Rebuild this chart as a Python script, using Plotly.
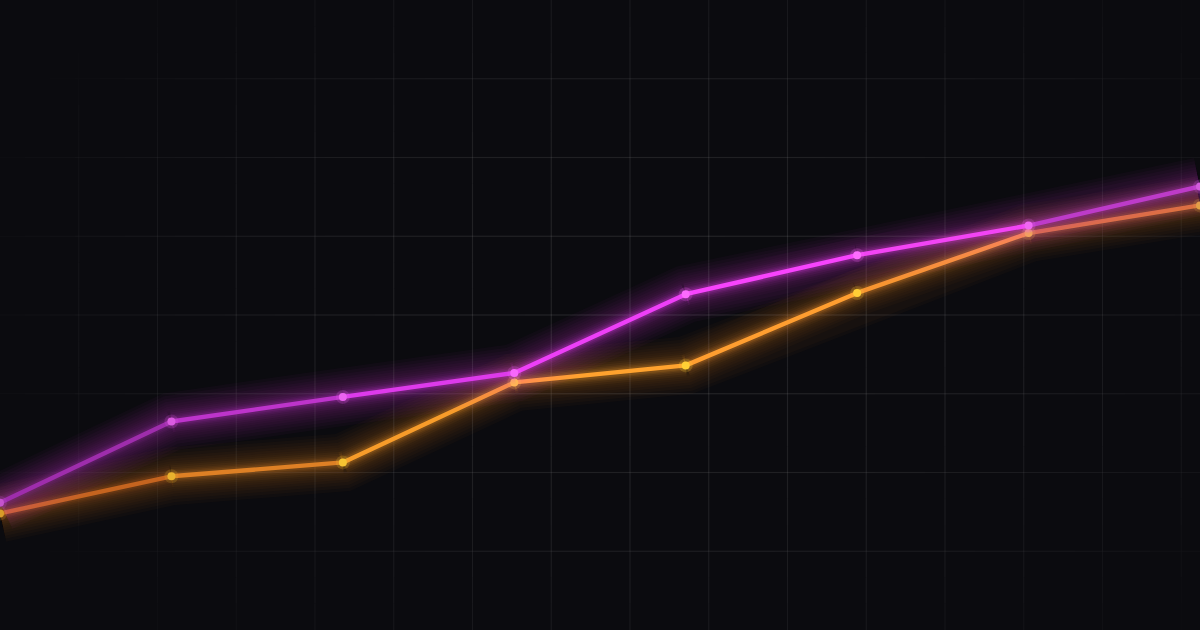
import plotly.graph_objects as go

# ---------------- data ----------------
periods = ["P1", "P2", "P3", "P4", "P5", "P6", "P7", "P8"]
magenta_values = [20.2, 33.1, 37.0, 40.8, 53.3, 59.5, 64.2, 70.4]
orange_values = [18.5, 24.4, 26.6, 39.3, 42.0, 53.5, 63.0, 67.4]

BG = "#0b0b0f"
W, H = 1200, 630

# gradient stops along the x direction (t in 0..1) per series
grad_t = [0.0, 0.4, 0.75, 1.0]
magenta_stops = ["#8e2a9c", "#e63cf4", "#ff46ff", "#a236b4"]
orange_stops = ["#b8561c", "#ffa42c", "#ff9c32", "#c86a2a"]
magenta_marker_tint = "#ff80ff"
orange_marker_tint = "#fff23a"


def hex2rgb(h):
    h = h.lstrip("#")
    return tuple(int(h[i:i + 2], 16) for i in (0, 2, 4))


def mix(c1, c2, f):
    return tuple(c1[i] + (c2[i] - c1[i]) * f for i in range(3))


def grad(stops, t):
    for i in range(len(grad_t) - 1):
        if grad_t[i] <= t <= grad_t[i + 1]:
            f = (t - grad_t[i]) / (grad_t[i + 1] - grad_t[i])
            return mix(hex2rgb(stops[i]), hex2rgb(stops[i + 1]), f)
    return hex2rgb(stops[-1])


def rgba(c, a):
    return "rgba(%d,%d,%d,%.3f)" % (round(c[0]), round(c[1]), round(c[2]), a)


fig = go.Figure()

# ---------------- grid (overlay axes in pixel units, faded towards edges) ----------------
step = H / 8.0
shapes = []
nseg = 24
cx, cy = W * 0.55, H * 0.5


def fade(px, py):
    dx = (px - cx) / (W * 0.62)
    dy = (py - cy) / (H * 0.75)
    r2 = dx * dx + dy * dy
    return max(0.0, 1.0 - r2)


k = 1
while k * step < W:
    gx = k * step
    for s in range(nseg):
        y0 = H * s / nseg
        y1 = H * (s + 1) / nseg
        a = 0.1 * fade(gx, (y0 + y1) / 2)
        shapes.append(dict(type="line", xref="x2", yref="y2", x0=gx, x1=gx, y0=y0, y1=y1,
                           line=dict(color=rgba((255, 255, 255), a), width=1.2), layer="below"))
    k += 1
for k in range(1, 8):
    gy = k * step
    for s in range(nseg * 2):
        x0 = W * s / (nseg * 2)
        x1 = W * (s + 1) / (nseg * 2)
        a = 0.1 * fade((x0 + x1) / 2, gy)
        shapes.append(dict(type="line", xref="x2", yref="y2", x0=x0, x1=x1, y0=gy, y1=gy,
                           line=dict(color=rgba((255, 255, 255), a), width=1.2), layer="below"))

# ---------------- series ----------------
xs = list(range(len(periods)))
n = len(xs) - 1


def add_series(vals, stops, tint):
    avg = grad(stops, 0.55)
    # broad glow: whole polyline (no overlaps at joints), many thin steps -> soft falloff
    for width in [58, 52, 46, 40, 35, 30, 26]:
        fig.add_trace(go.Scatter(x=xs, y=vals, mode="lines",
                                 line=dict(color=rgba(avg, 0.028), width=width, shape="linear"),
                                 hoverinfo="skip", showlegend=False))
    # tighter glow per segment (follows gradient)
    for width, alpha in [(22, 0.05), (18, 0.06), (14, 0.08), (11, 0.10), (8, 0.14)]:
        for i in range(n):
            t = (i + 0.5) / n
            c = grad(stops, t)
            fig.add_trace(go.Scatter(x=[xs[i], xs[i + 1]], y=[vals[i], vals[i + 1]], mode="lines",
                                     line=dict(color=rgba(c, alpha), width=width),
                                     hoverinfo="skip", showlegend=False))
    # core line
    for i in range(n):
        t = (i + 0.5) / n
        c = grad(stops, t)
        fig.add_trace(go.Scatter(x=[xs[i], xs[i + 1]], y=[vals[i], vals[i + 1]], mode="lines",
                                 line=dict(color=rgba(c, 1.0), width=4.4),
                                 hoverinfo="skip", showlegend=False))
    # markers
    mcols, gcols = [], []
    for i in range(len(xs)):
        t = i / n
        c = grad(stops, t)
        bright = (sum(c) / 3) / 200.0
        mc = mix(c, hex2rgb(tint), min(0.8, 0.2 + 0.5 * bright))
        mcols.append(rgba(mc, 1.0))
        gcols.append(rgba(mc, 0.2))
    fig.add_trace(go.Scatter(x=xs, y=vals, mode="markers",
                             marker=dict(size=14, color=gcols, line=dict(width=0)),
                             hoverinfo="skip", showlegend=False))
    fig.add_trace(go.Scatter(x=xs, y=vals, mode="markers",
                             marker=dict(size=8, color=mcols, line=dict(width=0)),
                             hoverinfo="skip", showlegend=False))


add_series(orange_values, orange_stops, orange_marker_tint)
add_series(magenta_values, magenta_stops, magenta_marker_tint)

fig.update_layout(
    width=W, height=H,
    margin=dict(l=0, r=0, t=0, b=0),
    paper_bgcolor=BG, plot_bgcolor=BG,
    showlegend=False,
    shapes=shapes,
    xaxis=dict(range=[0, n], visible=False, fixedrange=True),
    yaxis=dict(range=[0, 100], visible=False, fixedrange=True),
    xaxis2=dict(range=[0, W], visible=False, overlaying="x", fixedrange=True),
    yaxis2=dict(range=[0, H], visible=False, overlaying="y", fixedrange=True),
)

fig.write_html("out.html", config={"displayModeBar": False},
               post_script="document.body.style.margin='0';document.body.style.background='%s';document.body.style.overflow='hidden';" % BG)
